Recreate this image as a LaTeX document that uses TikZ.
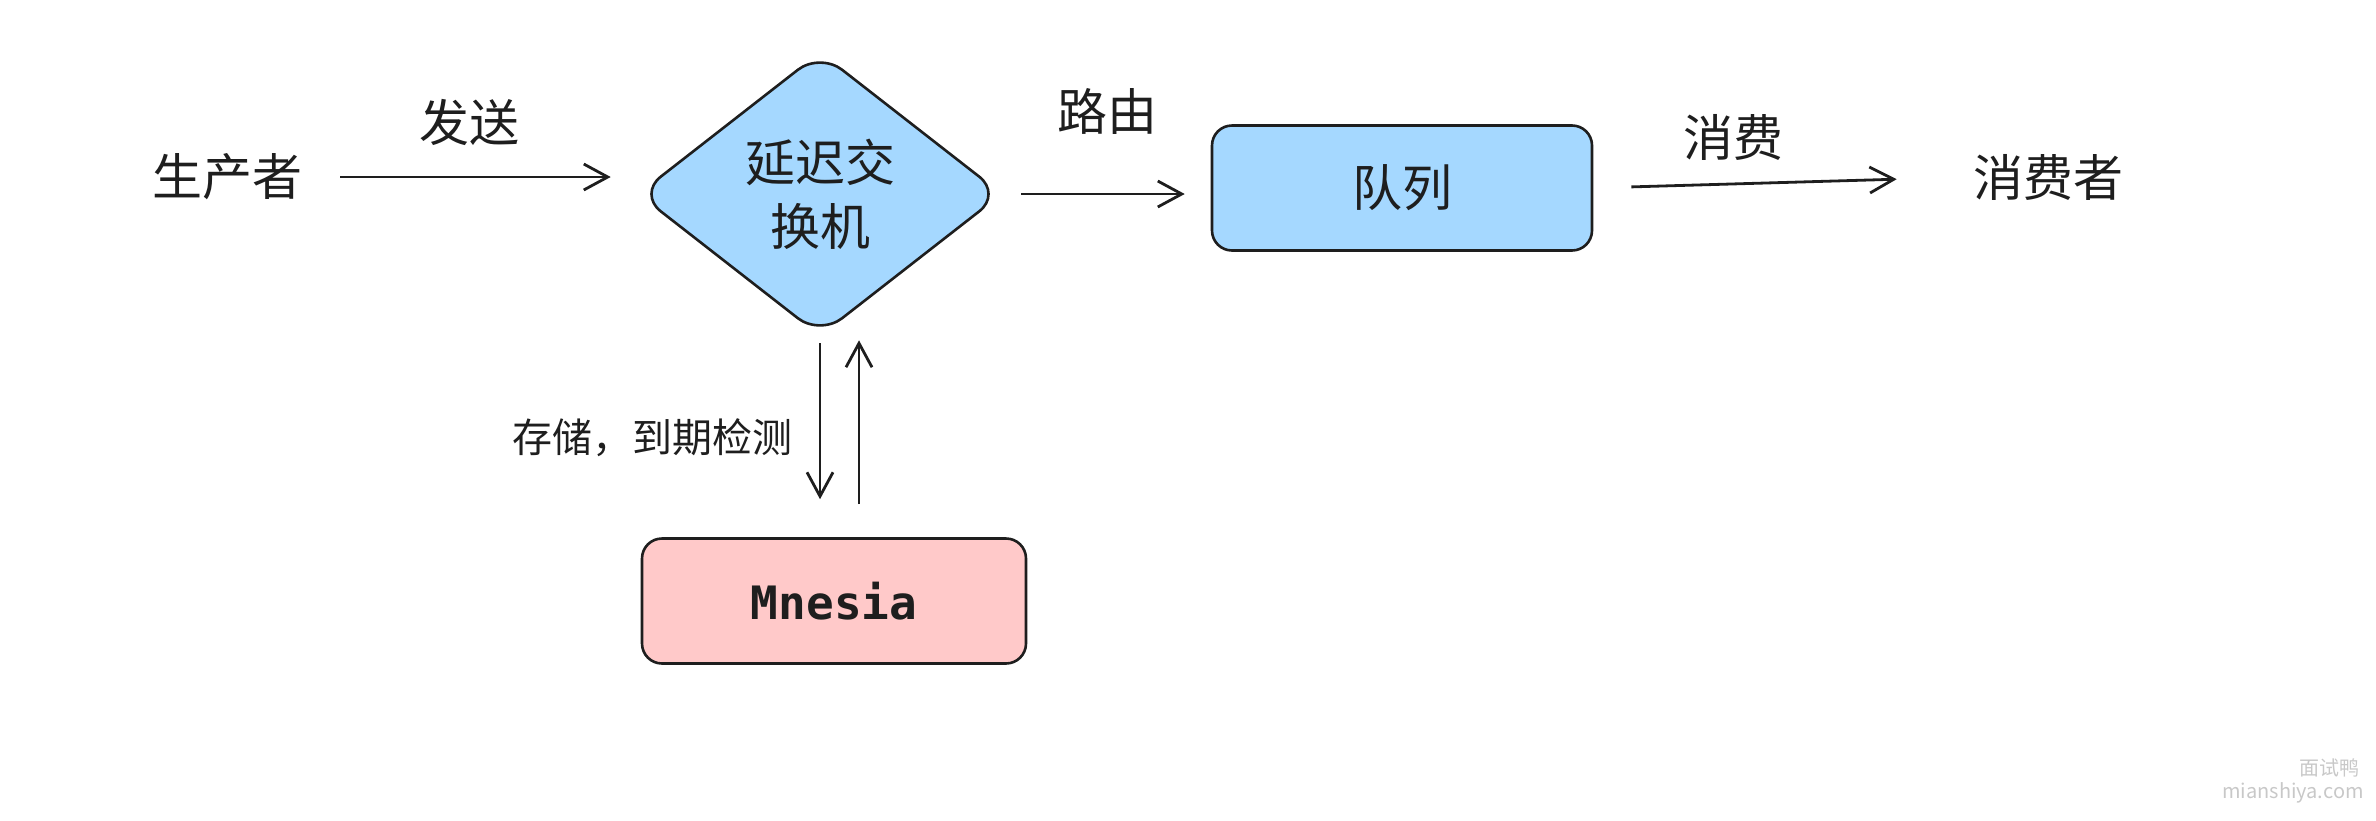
\documentclass[tikz,border=0pt]{standalone}
\usepackage{fontspec}
\usepackage{tikz}
\usetikzlibrary{positioning,arrows.meta,shapes.geometric}
\newfontfamily\cjk{Noto Sans CJK SC}
\newfontfamily\mono{DejaVu Sans Mono}
\definecolor{ink}{HTML}{1E1E1E}
\definecolor{skyfill}{HTML}{A5D8FF}
\definecolor{pinkfill}{HTML}{FFC9C9}
\definecolor{markgray}{HTML}{C8C8C8}
\tikzset{
  lbl/.style={font=\cjk\fontsize{25}{32}\selectfont, text=ink, inner sep=0pt},
  smalllbl/.style={font=\cjk\fontsize{20}{24}\selectfont, text=ink, inner sep=0pt},
  roundbox/.style={draw=ink, line width=1.3pt, rounded corners=10pt, minimum width=190pt, minimum height=62.5pt},
  wmark/.style={font=\cjk\fontsize{10}{12}\selectfont, text=markgray, inner sep=0pt, anchor=east}
}

\begin{document}
\begin{tikzpicture}[x=0.5pt, y=-0.5pt, >={Straight Barb[length=12pt,width=13pt]}, flow/.style={->, draw=ink, line width=1.4pt}]
\useasboundingbox (0,0) rectangle (2376,820);
\draw (227,177)node[lbl](producer){生产者};
\draw (820,194)node[lbl,diamond,draw=ink,fill=skyfill,line width=1.3pt,rounded corners=14pt,minimum width=182pt,minimum height=142pt,align=center](exch){延迟交\\换机};
\draw (1402,188)node[lbl,roundbox,fill=skyfill](queue){队列};
\draw (2048,177)node[lbl](consumer){消费者};
\draw (834,601)node[roundbox,fill=pinkfill,minimum width=192pt,font=\mono\bfseries\fontsize{23}{28}\selectfont,text=ink](store){Mnesia};
\draw (2360,768)node[wmark](wmcn){面试鸭};
\draw (2364,793)node[wmark](wmurl){mianshiya.com};
\path (producer.east) edge[flow, shorten <=19pt, shorten >=13pt] node[lbl,above=15pt]{发送}(producer.east -| exch.west);
\path (exch.east) edge[flow, shorten <=9pt, shorten >=13pt] node[lbl,above=29pt]{路由}(exch.east -| queue.west);
\path (queue.east) edge[flow, shorten <=19pt, shorten >=38pt] node[lbl,pos=.37,above=11pt]{消费}(consumer.west);
\path (exch.south) edge[flow, shorten <=3pt, shorten >=19pt] node[smalllbl,left=13pt]{存储，到期检测}(exch.south |- store.north);
\path ([xshift=12.5pt]store.north) edge[flow, shorten <=16.5pt, shorten >=1.5pt]([xshift=12.5pt]store.north |- exch.south);
\end{tikzpicture}
\end{document}
